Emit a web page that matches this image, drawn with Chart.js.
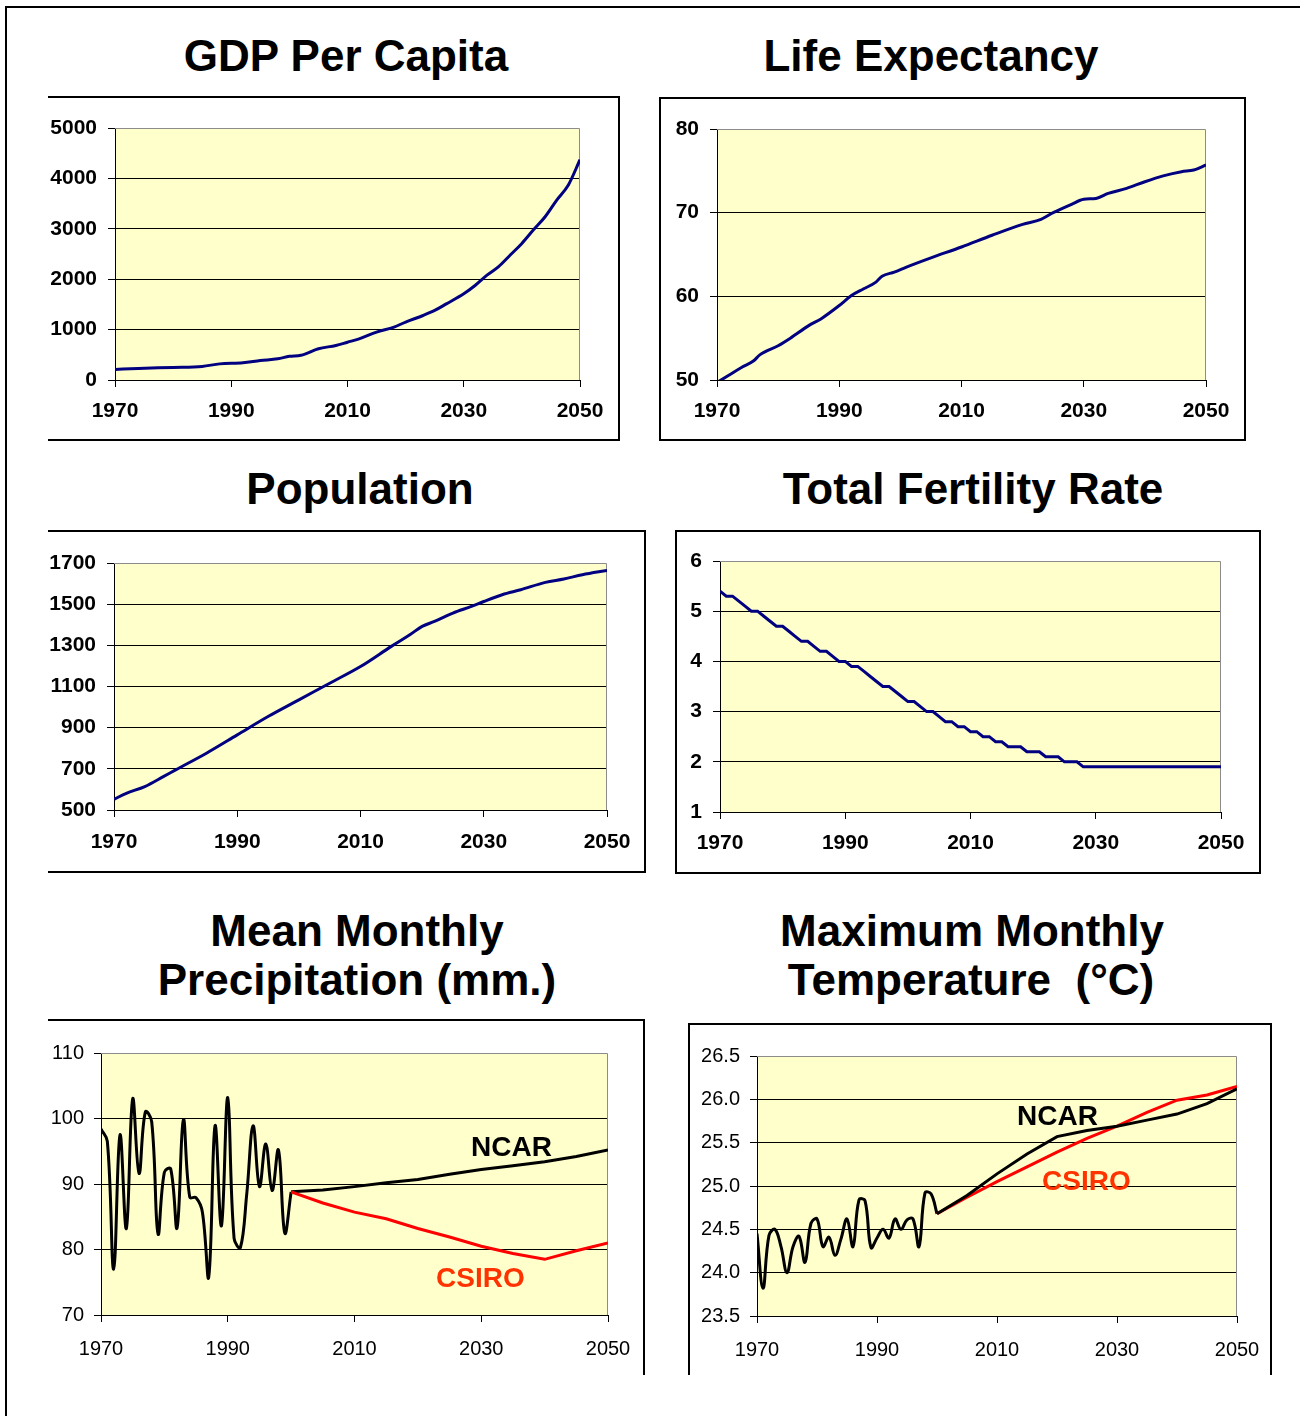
<!DOCTYPE html>
<html>
<head>
<meta charset="utf-8">
<script src="https://cdn.jsdelivr.net/npm/chart.js@4.4.1/dist/chart.umd.min.js"></script>
<style>
  body { margin: 0; background: #fff; width: 1300px; height: 1416px; position: relative; overflow: hidden;
         font-family: 'Liberation Sans', Arial, sans-serif; }
  .title { position: absolute; width: 600px; text-align: center; font-weight: bold; font-size: 44px;
           line-height: 44px; color: #000; white-space: pre; }
  .h { position: absolute; height: 2px; background: #000; }
  .v { position: absolute; width: 2px; background: #000; }
  .lbl { position: absolute; font-weight: bold; font-size: 28px; line-height: 28px; white-space: pre; }
  canvas { position: absolute; }
</style>
</head>
<body>
<!-- outer frame -->
<div class="h" style="left:5px;top:6px;width:1295px"></div>
<div class="v" style="left:5px;top:6px;height:1410px"></div>

<!-- titles -->
<div class="title" style="left:46px;top:34px">GDP Per Capita</div>
<div class="title" style="left:631px;top:34px">Life Expectancy</div>
<div class="title" style="left:60px;top:467px">Population</div>
<div class="title" style="left:673px;top:467px">Total Fertility Rate</div>
<div class="title" style="left:57px;top:909px">Mean Monthly</div>
<div class="title" style="left:57px;top:958px">Precipitation (mm.)</div>
<div class="title" style="left:672px;top:909px">Maximum Monthly</div>
<div class="title" style="left:671px;top:958px">Temperature  (°C)</div>

<!-- panel boxes -->
<div class="h" style="left:48px;top:96px;width:572px"></div>
<div class="v" style="left:618px;top:96px;height:345px"></div>
<div class="h" style="left:48px;top:439px;width:572px"></div>

<div class="h" style="left:659px;top:97px;width:587px"></div>
<div class="v" style="left:659px;top:97px;height:344px"></div>
<div class="v" style="left:1244px;top:97px;height:344px"></div>
<div class="h" style="left:659px;top:439px;width:587px"></div>

<div class="h" style="left:48px;top:530px;width:598px"></div>
<div class="v" style="left:644px;top:530px;height:343px"></div>
<div class="h" style="left:48px;top:871px;width:598px"></div>

<div class="h" style="left:675px;top:530px;width:586px"></div>
<div class="v" style="left:675px;top:530px;height:344px"></div>
<div class="v" style="left:1259px;top:530px;height:344px"></div>
<div class="h" style="left:675px;top:872px;width:586px"></div>

<div class="h" style="left:48px;top:1019px;width:597px"></div>
<div class="v" style="left:643px;top:1019px;height:356px"></div>

<div class="h" style="left:688px;top:1023px;width:584px"></div>
<div class="v" style="left:688px;top:1023px;height:352px"></div>
<div class="v" style="left:1270px;top:1023px;height:352px"></div>

<canvas id="gdp"></canvas>
<canvas id="life"></canvas>
<canvas id="pop"></canvas>
<canvas id="tfr"></canvas>
<canvas id="precip"></canvas>
<canvas id="temp"></canvas>

<!-- series labels -->
<div class="lbl" style="left:471px;top:1133px;color:#000">NCAR</div>
<div class="lbl" style="left:436px;top:1264px;color:#FF3300">CSIRO</div>
<div class="lbl" style="left:1017px;top:1102px;color:#000">NCAR</div>
<div class="lbl" style="left:1042px;top:1167px;color:#FF3300">CSIRO</div>

<script>
/* ---------- data ---------- */
const yearTicks = [1970, 1990, 2010, 2030, 2050];

const gdpTicks = [0, 1000, 2000, 3000, 4000, 5000];
const gdpYears = [1970, 1974, 1980, 1985, 1988, 1992, 1995, 1998, 2000, 2002, 2005, 2008, 2010, 2012, 2015,
                  2018, 2020, 2023, 2025, 2027, 2030, 2032, 2034, 2036, 2038, 2040, 2042, 2044, 2046, 2048, 2050];
const gdpValues = [210, 230, 250, 270, 320, 340, 385, 420, 470, 490, 620, 685, 750, 815, 950,
                   1050, 1150, 1280, 1380, 1510, 1710, 1880, 2080, 2250, 2480, 2710, 2980, 3240, 3570, 3870, 4370];

const lifeTicks = [50, 60, 70, 80];
const lifeYears = [1970, 1972, 1974, 1976, 1977, 1980, 1982, 1985, 1987, 1990, 1992, 1994, 1996, 1997, 1999, 2001,
                   2005, 2010, 2015, 2020, 2023, 2025, 2028, 2030, 2032, 2034, 2037, 2040, 2043, 2046, 2048, 2050];
const lifeValues = [49.7, 50.6, 51.5, 52.3, 53.0, 54.1, 55.0, 56.5, 57.3, 58.9, 60.1, 60.9, 61.7, 62.4, 62.9, 63.5,
                    64.6, 65.9, 67.3, 68.6, 69.2, 70.0, 71.0, 71.6, 71.7, 72.3, 72.9, 73.7, 74.4, 74.9, 75.1, 75.7];

const popTicks = [500, 700, 900, 1100, 1300, 1500, 1700];
const popYears = [1970, 1972, 1975, 1978, 1980, 1985, 1990, 1995, 2000, 2005, 2010, 2015, 2018, 2020, 2022,
                  2025, 2028, 2030, 2033, 2036, 2040, 2043, 2046, 2050];
const popValues = [552, 581, 614, 662, 695, 776, 865, 954, 1035, 1116, 1197, 1295, 1351, 1392, 1416,
                   1457, 1489, 1513, 1546, 1570, 1606, 1622, 1643, 1664];

const tfrTicks = [1, 2, 3, 4, 5, 6];
const tfrYears = Array.from({ length: 81 }, (_, i) => 1970 + i);
const tfrValues = [5.4, 5.3, 5.3, 5.2, 5.1, 5.0, 5.0, 4.9, 4.8, 4.7,   // 1970-79
                   4.7, 4.6, 4.5, 4.4, 4.4, 4.3, 4.2, 4.2, 4.1, 4.0,   // 1980-89
                   4.0, 3.9, 3.9, 3.8, 3.7, 3.6, 3.5, 3.5, 3.4, 3.3,   // 1990-99
                   3.2, 3.2, 3.1, 3.0, 3.0, 2.9, 2.8, 2.8, 2.7, 2.7,   // 2000-09
                   2.6, 2.6, 2.5, 2.5, 2.4, 2.4, 2.3, 2.3, 2.3, 2.2,   // 2010-19
                   2.2, 2.2, 2.1, 2.1, 2.1, 2.0, 2.0, 2.0, 1.9, 1.9,   // 2020-29
                   1.9, 1.9, 1.9, 1.9, 1.9, 1.9, 1.9, 1.9, 1.9, 1.9,   // 2030-39
                   1.9, 1.9, 1.9, 1.9, 1.9, 1.9, 1.9, 1.9, 1.9, 1.9,   // 2040-49
                   1.9];                                              // 2050

const histYears = Array.from({ length: 31 }, (_, i) => 1970 + i);
const projYears = [2000, 2005, 2010, 2015, 2020, 2025, 2030, 2035, 2040, 2045, 2050];

const precipTicks = [70, 80, 90, 100, 110];
const precipHist = [98.4, 96.5, 77.0, 97.5, 83.2, 103.0, 91.6, 101.0, 99.5, 82.4,
                    91.8, 92.3, 83.3, 99.8, 88.0, 87.9, 85.7, 75.8, 98.9, 83.6,
                    103.2, 81.7, 80.3, 88.5, 98.9, 89.6, 96.1, 89.0, 95.2, 82.5, 88.8];
const precipNcar  = [88.8, 89.1, 89.6, 90.2, 90.7, 91.5, 92.2, 92.8, 93.4, 94.2, 95.2];
const precipCsiro = [88.8, 87.1, 85.7, 84.7, 83.2, 81.9, 80.5, 79.4, 78.5, 79.8, 81.0];

const tempTicks = [23.5, 24.0, 24.5, 25.0, 25.5, 26.0, 26.5];
const tempHist = [24.45, 23.82, 24.43, 24.50, 24.30, 24.00, 24.30, 24.42, 24.12, 24.57,
                  24.62, 24.30, 24.41, 24.20, 24.39, 24.62, 24.30, 24.84, 24.83, 24.29,
                  24.40, 24.50, 24.40, 24.62, 24.50, 24.61, 24.62, 24.30, 24.92, 24.91, 24.68];
const tempNcar  = [24.68, 24.89, 25.14, 25.37, 25.57, 25.64, 25.69, 25.76, 25.83, 25.95, 26.12];
const tempCsiro = [24.68, 24.87, 25.05, 25.22, 25.39, 25.55, 25.69, 25.85, 25.99, 26.05, 26.15];

/* ---------- helpers ---------- */
Chart.defaults.font.family = "'Liberation Sans', Arial, sans-serif";
Chart.defaults.animation = false;

// canvas margin around each plot area (room for tick labels)
const M = { l: 90, t: 40, r: 50, b: 50 };

const pts = (xs, ys) => xs.map((x, i) => ({ x: x, y: ys[i] }));

const plotBg = {
  id: 'plotBg',
  beforeDraw(chart) {
    const { ctx, chartArea: a } = chart;
    ctx.save();
    ctx.fillStyle = '#FFFFCC';
    ctx.fillRect(a.left, a.top, a.right - a.left, a.bottom - a.top);
    ctx.restore();
  },
  beforeDatasetsDraw(chart) {
    const { ctx, chartArea: a } = chart;
    ctx.save();
    ctx.strokeStyle = '#8c8c8c';
    ctx.lineWidth = 1;
    ctx.beginPath();
    ctx.moveTo(a.left, Math.round(a.top) + 0.5);
    ctx.lineTo(Math.round(a.right) - 0.5, Math.round(a.top) + 0.5);
    ctx.lineTo(Math.round(a.right) - 0.5, a.bottom);
    ctx.stroke();
    ctx.restore();
  }
};

function line(data, color, tension, mode) {
  return { data: data, borderColor: color, borderWidth: 3, pointRadius: 0, tension: tension || 0,
           cubicInterpolationMode: mode || 'default', fill: false };
}

function makeChart(id, plot, datasets, yTicks, opts) {
  const cv = document.getElementById(id);
  const w = plot.right - plot.left + M.l + M.r;
  const h = plot.bottom - plot.top + M.t + M.b;
  cv.width = w; cv.height = h;
  cv.style.left = (plot.left - M.l) + 'px';
  cv.style.top = (plot.top - M.t) + 'px';
  cv.style.width = w + 'px';
  cv.style.height = h + 'px';

  const yMin = yTicks[0], yMax = yTicks[yTicks.length - 1];
  const font = opts.bold ? { size: 21, weight: 'bold' } : { size: 20, weight: 'normal' };

  return new Chart(cv, {
    type: 'line',
    data: { datasets: datasets },
    plugins: [plotBg],
    options: {
      responsive: false,
      layout: { padding: { left: 0, top: M.t, right: M.r, bottom: 0 } },
      plugins: { legend: { display: false }, tooltip: { enabled: false } },
      scales: {
        x: {
          type: 'linear', min: 1970, max: 2050,
          afterBuildTicks: s => { s.ticks = yearTicks.map(v => ({ value: v })); },
          afterFit: s => { s.height = M.b; },
          grid: { drawOnChartArea: false, tickLength: 7, tickColor: '#000', color: '#000' },
          border: { color: '#000', width: 1 },
          ticks: { color: '#000', font: font, padding: opts.xPad, maxRotation: 0, autoSkip: false,
                   callback: v => String(v) }
        },
        y: {
          min: yMin, max: yMax,
          afterBuildTicks: s => { s.ticks = yTicks.map(v => ({ value: v })); },
          afterFit: s => { s.width = M.l; },
          grid: {
            color: c => (c.tick && c.tick.value === yMax) ? 'rgba(0,0,0,0)' : '#000',
            tickColor: '#000', tickLength: 7
          },
          border: { color: '#000', width: 1 },
          ticks: { color: '#000', font: font, padding: opts.yPad, autoSkip: false,
                   callback: opts.fmt || (v => String(v)) }
        }
      }
    }
  });
}

/* ---------- charts ---------- */
const NAVY = '#000080';

makeChart('gdp', { left: 115, top: 128, right: 580, bottom: 380 },
  [line(pts(gdpYears, gdpValues), NAVY, 0.4, 'monotone')], gdpTicks, { bold: true, xPad: 12, yPad: 11 });

makeChart('life', { left: 717, top: 129, right: 1206, bottom: 380 },
  [line(pts(lifeYears, lifeValues), NAVY, 0.4, 'monotone')], lifeTicks, { bold: true, xPad: 12, yPad: 11 });

makeChart('pop', { left: 114, top: 563, right: 607, bottom: 810 },
  [line(pts(popYears, popValues), NAVY, 0.4, 'monotone')], popTicks, { bold: true, xPad: 13, yPad: 11 });

makeChart('tfr', { left: 720, top: 561, right: 1221, bottom: 812 },
  [line(pts(tfrYears, tfrValues), NAVY)], tfrTicks, { bold: true, xPad: 12, yPad: 11 });

makeChart('precip', { left: 101, top: 1053, right: 608, bottom: 1315 },
  [
    line(pts(projYears, precipCsiro), '#FF0000'),
    line(pts(projYears, precipNcar), '#000'),
    line(pts(histYears, precipHist), '#000', 0.4)
  ], precipTicks, { bold: false, xPad: 15, yPad: 10 });

makeChart('temp', { left: 757, top: 1056, right: 1237, bottom: 1316 },
  [
    line(pts(projYears, tempNcar), '#000'),
    line(pts(projYears, tempCsiro), '#FF0000'),
    line(pts(histYears, tempHist), '#000', 0.4)
  ], tempTicks, { bold: false, xPad: 15, yPad: 10, fmt: v => v.toFixed(1) });
</script>
</body>
</html>
